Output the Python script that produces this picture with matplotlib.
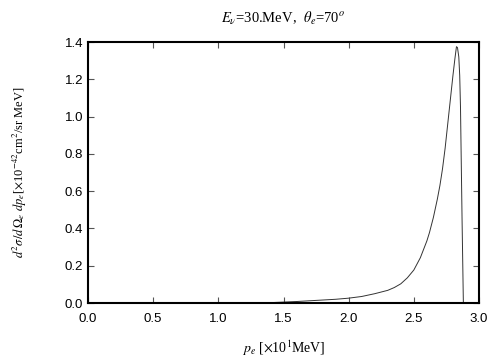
import numpy as np
import matplotlib
matplotlib.use("Agg")
import matplotlib.pyplot as plt

# valores
p_e = [1.30, 1.40, 1.50, 1.60, 1.70, 1.80, 1.90, 2.00, 2.10, 2.20, 2.30,
       2.35, 2.40, 2.45, 2.50, 2.55, 2.60, 2.62, 2.65, 2.68, 2.70,
       2.72, 2.74, 2.76, 2.78, 2.80, 2.815, 2.827, 2.835, 2.845, 2.852,
       2.858, 2.864, 2.870, 2.876, 2.880]
seccion = [0.0, 0.002, 0.005, 0.008, 0.012, 0.016, 0.020, 0.026, 0.035,
           0.050, 0.068, 0.083, 0.103, 0.135, 0.177, 0.243, 0.333, 0.378,
           0.459, 0.556, 0.63, 0.72, 0.83, 0.96, 1.09, 1.22, 1.31, 1.375,
           1.37, 1.32, 1.22, 1.05, 0.75, 0.45, 0.18, 0.0]

xticks = [0.0, 0.5, 1.0, 1.5, 2.0, 2.5, 3.0]
yticks = [0.0, 0.2, 0.4, 0.6, 0.8, 1.0, 1.2, 1.4]

plt.rcParams['mathtext.fontset'] = 'stix'
plt.rcParams['font.family'] = 'Liberation Serif'

fig = plt.figure(figsize=(5.04, 3.6), dpi=100)
ax = fig.add_axes([0.1746, 0.1583, 0.7758, 0.725])

ax.plot(p_e, seccion, color="#333333", linewidth=0.7)

ax.set_xlim(0, 3.0)
ax.set_ylim(0, 1.4)
ax.set_xticks(xticks)
ax.set_yticks(yticks)
ax.set_xticklabels([f"{t:.1f}" for t in xticks], family="Liberation Sans", fontsize=9.5)
ax.set_yticklabels([f"{t:.1f}" for t in yticks], family="Liberation Sans", fontsize=9.5)
ax.tick_params(direction="in", top=True, right=True, length=4, width=0.8, color="#555555")
ax.tick_params(axis="x", pad=7)
for s in ax.spines.values():
    s.set_linewidth(1.5)

ax.set_title(r"$E_\nu$=30.MeV,  $\theta_e$=70$^o$", fontsize=10.5, pad=14)
ax.set_xlabel(r"$p_e$ [$\times$10$^1$MeV]", fontsize=10, labelpad=10)
ax.set_ylabel(r"$d^2\sigma/d\,\Omega_e\ dp_e$[$\times$10$^{-42}$cm$^2$/sr MeV]", fontsize=9, labelpad=26)

plt.savefig("out.png", dpi=100)
